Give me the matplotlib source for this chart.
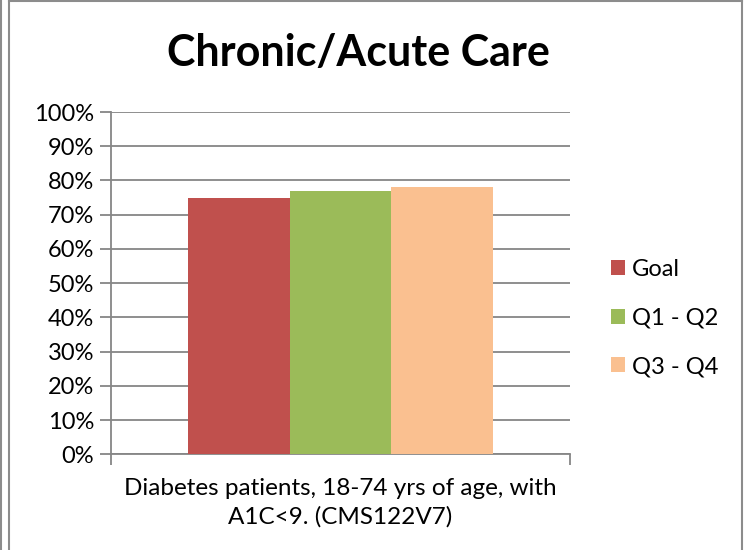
import matplotlib
matplotlib.use("Agg")
import matplotlib.pyplot as plt
from matplotlib.lines import Line2D
from matplotlib.ticker import FixedLocator, PercentFormatter

plt.rcParams['font.family'] = ['Lato', 'DejaVu Sans']

title = "Chronic/Acute Care"
categories = ["Diabetes patients, 18-74 yrs of age, with\nA1C<9. (CMS122V7)"]
series_names = ["Goal", "Q1 - Q2", "Q3 - Q4"]
series_values = [[75], [77], [78]]
colors = ["#C0504D", "#9BBB59", "#FAC090"]
yticks = [0, 10, 20, 30, 40, 50, 60, 70, 80, 90, 100]

W, H = 744, 550
fig = plt.figure(figsize=(W / 100, H / 100), dpi=100)
ax = fig.add_axes([111 / W, 1 - 454.3 / H, 459 / W, 342.3 / H])

grid_c = "#868686"
n = len(series_names)
bw = 0.2222
xs = list(range(len(categories)))
for i, (name, vals, c) in enumerate(zip(series_names, series_values, colors)):
    pos = [x + (i - (n - 1) / 2) * bw for x in xs]
    ax.bar(pos, vals, width=bw, color=c, label=name, zorder=3)

ax.set_xlim(-0.5, len(categories) - 0.5)
ax.set_ylim(0, 100)
ax.set_yticks(yticks)
ax.yaxis.set_major_formatter(PercentFormatter(decimals=0))
ax.yaxis.grid(True, color=grid_c, linewidth=1.3, zorder=0)
ax.tick_params(axis='y', length=8, width=1.3, color=grid_c, labelsize=17, pad=4, labelcolor='black')

ax.set_xticks(xs)
ax.set_xticklabels(categories, fontsize=17.5, linespacing=1.38)
ax.tick_params(axis='x', which='major', length=0, pad=17)
ax.xaxis.set_minor_locator(FixedLocator([-0.5 + k for k in range(len(categories) + 1)]))
ax.tick_params(axis='x', which='minor', length=8, width=1.3, color=grid_c)

for s in ['top', 'right']:
    ax.spines[s].set_visible(False)
for s in ['left', 'bottom']:
    ax.spines[s].set_color(grid_c)
    ax.spines[s].set_linewidth(1.3)

fig.text(358 / W, 1 - 53 / H, title, ha='center', va='center', fontsize=31, fontweight='bold')

fig.legend(loc='center left', bbox_to_anchor=(611 / W, 1 - 318 / H), frameon=False,
           fontsize=17, handlelength=0.6, handleheight=0.6, handletextpad=0.3,
           labelspacing=1.17, borderpad=0, borderaxespad=0)

# frame lines
fc = "#8c8c8c"
fig.add_artist(Line2D([8.5 / W, 8.5 / W], [0, 1], transform=fig.transFigure, color=fc, lw=1.5))
fig.add_artist(Line2D([0.8 / W, 0.8 / W], [0, 1], transform=fig.transFigure, color=fc, lw=1.5))
fig.add_artist(Line2D([8.5 / W, 742 / W], [1 - 0.8 / H, 1 - 0.8 / H], transform=fig.transFigure, color=fc, lw=1.5))
fig.add_artist(Line2D([742 / W, 742 / W], [0, 1], transform=fig.transFigure, color=fc, lw=1.5))

fig.savefig("out.png", dpi=100)
